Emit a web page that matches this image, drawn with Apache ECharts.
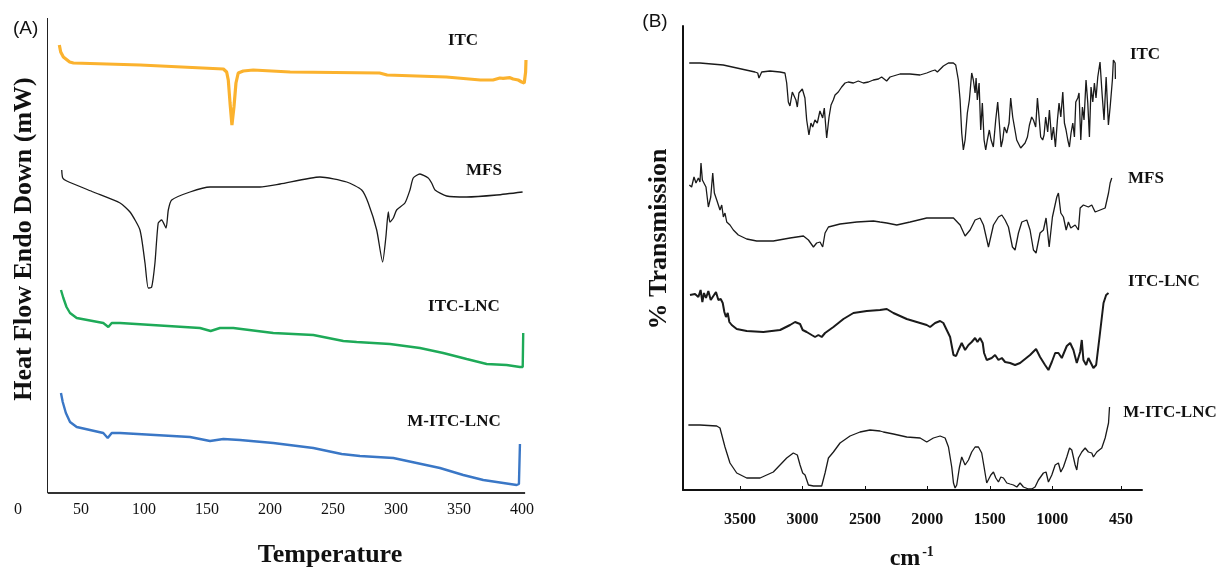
<!DOCTYPE html>
<html>
  <head>
    <meta charset="utf-8" />
    <title>DSC and FTIR</title>
    <script src="https://cdn.jsdelivr.net/npm/echarts@6.0.0/dist/echarts.min.js"></script>
    <style>
      html, body { margin: 0; padding: 0; background: #fff; }
    </style>
  </head>
  <body>
    <div id="main" style="width: 1218px; height: 573px"></div>

    <script>
      // (A) DSC: [temperature, heat flow (arbitrary, curves stacked)]
      var tempTicks = [0, 50, 100, 150, 200, 250, 300, 350, 400];
      var dscITC = [[32.8,448],[33.9,441],[36,436],[41,431],[44,430],[97,428],[163,424],[165.6,421],[166.9,413],[168.3,390],[169.8,368],[171.4,386],[173,410],[174.8,420],[178.8,422],[186.7,423],[216,421],[287,420],[293,418],[340,416],[367,413],[377,413],[382.5,415],[385,414.7],[390.5,415.3],[393,414],[397,413],[399.8,411],[401.8,410],[402.9,421],[403.2,433]];
      var dscMFS = [[34.7,323],[35.5,315],[38.7,312],[59.8,301],[81,290],[88.9,281],[96.8,263],[100.8,230],[103.4,205],[106.1,206],[108.7,230],[111.3,270],[114,273],[117.5,265],[119.3,283],[122,293],[136.5,301],[152.4,306],[192,306],[208,309],[239.7,316],[260.9,311],[272.8,303],[278,290],[284.7,263],[289.4,231],[292,256],[293.9,281],[295.2,271],[297.9,275],[300.5,283],[307.1,290],[311.1,303],[313.7,315],[319,319],[325.6,315],[328.3,310],[331,303],[340.2,297],[356.1,296],[380,298],[400.5,301]];
      var dscITCLNC = [[34.1,203],[36,195],[38.5,186],[41.3,180],[46.6,175],[67.7,170],[71.7,166],[74.4,170],[81,170],[144.4,165],[152.9,162],[160.3,165],[170.9,165],[202.6,160],[234.4,158],[258.2,152],[268.8,151],[295.2,149],[319,145],[337.5,140],[356.1,134],[372,129],[387.8,128],[398.4,126],[400.6,126],[401,160]];
      var dscMITCLNC = [[34.1,100],[35.5,91],[38,80],[41.3,71],[46.6,66],[67.7,60],[71.2,55],[74.4,60],[81,60],[136.5,56],[152.4,52],[163,54],[176.2,53],[202.6,50],[234.4,45],[256.9,39],[271.4,37],[297.9,35],[316.4,30],[334.9,25],[353.4,18],[369.3,13],[385.2,10],[395.8,8],[397.6,9],[398.4,49]];

      // (B) FTIR: [wavenumber cm-1, transmission (arbitrary, curves stacked)]
      var waveTicks = [3500, 3000, 2500, 2000, 1500, 1000, 450];
      var ftirITC = [[3906,427],[3820,427],[3634,425],[3380,418],[3358,417],[3348,412],[3326,418],[3260,419],[3180,418],[3140,417],[3126,407],[3113,388],[3100,384],[3081,398],[3065,400],[3052,390],[3041,383],[3028,397],[3001,401],[2980,392],[2966,370],[2948,355],[2932,367],[2918,363],[2900,370],[2881,367],[2860,379],[2838,372],[2825,382],[2806,352],[2787,373],[2771,385],[2753,390],[2739,395],[2713,398],[2686,403],[2659,407],[2633,408],[2592,407],[2553,409],[2512,407],[2472,408],[2432,410],[2392,411],[2366,413],[2326,409],[2299,413],[2219,416],[2139,416],[2059,415],[2005,417],[1965,419],[1939,420],[1920,418],[1904,419],[1872,424],[1832,427],[1792,427],[1773,425],[1752,410],[1738,390],[1725,357],[1712,340],[1698,350],[1680,377],[1664,390],[1645,417],[1632,410],[1618,397],[1610,412],[1600,390],[1586,407],[1573,360],[1560,387],[1546,350],[1533,340],[1520,350],[1504,360],[1490,350],[1472,343],[1453,370],[1437,388],[1424,367],[1410,343],[1397,350],[1384,363],[1365,357],[1346,367],[1333,392],[1317,373],[1303,363],[1285,350],[1271,352],[1253,342],[1237,344],[1218,347],[1199,353],[1183,365],[1165,373],[1151,370],[1133,363],[1119,392],[1106,373],[1093,353],[1077,350],[1066,355],[1053,373],[1037,358],[1023,380],[1005,350],[991,363],[975,343],[959,370],[946,387],[932,373],[916,398],[903,367],[890,360],[876,350],[863,343],[850,357],[836,367],[823,353],[812,388],[796,392],[786,397],[772,350],[759,383],[746,370],[730,410],[716,387],[703,353],[690,403],[676,388],[663,407],[650,392],[636,413],[618,428],[602,397],[586,370],[569,413],[551,365],[537,383],[519,410],[511,430],[497,427],[495,411]];
      var ftirMFS = [[3905,305],[3887,303],[3868,313],[3852,307],[3833,312],[3820,308],[3812,327],[3801,310],[3788,312],[3772,303],[3753,283],[3734,293],[3718,317],[3705,297],[3686,290],[3673,292],[3660,280],[3646,285],[3633,273],[3620,277],[3606,268],[3580,265],[3553,260],[3513,255],[3446,251],[3366,249],[3233,249],[3099,252],[2992,254],[2952,250],[2912,243],[2886,247],[2859,248],[2838,243],[2819,257],[2792,263],[2699,266],[2565,268],[2432,269],[2379,268],[2325,267],[2245,265],[2138,268],[2005,272],[1898,272],[1791,272],[1738,265],[1698,254],[1658,260],[1618,270],[1578,272],[1551,265],[1511,243],[1471,265],[1431,273],[1404,275],[1378,270],[1351,263],[1319,243],[1298,240],[1271,257],[1244,268],[1204,270],[1178,260],[1151,240],[1130,237],[1098,257],[1071,260],[1050,272],[1025,243],[999,273],[964,293],[951,297],[932,277],[911,273],[889,260],[871,268],[852,262],[817,265],[791,260],[777,282],[751,285],[711,283],[684,285],[657,278],[617,280],[577,282],[550,297],[537,307],[524,312]];
      var ftirITCLNC = [[3900,195],[3860,196],[3833,193],[3815,200],[3801,188],[3788,197],[3772,192],[3753,199],[3734,190],[3713,194],[3692,198],[3673,190],[3654,191],[3638,187],[3625,178],[3612,173],[3598,177],[3585,168],[3566,165],[3526,161],[3446,159],[3313,158],[3179,160],[3099,165],[3059,168],[3019,166],[2998,160],[2966,158],[2926,155],[2899,153],[2872,155],[2846,153],[2819,157],[2752,163],[2672,171],[2592,177],[2485,179],[2379,180],[2325,181],[2272,177],[2165,171],[2085,168],[2005,165],[1978,163],[1938,167],[1898,169],[1872,167],[1845,160],[1818,153],[1791,135],[1770,134],[1751,140],[1725,147],[1698,140],[1671,145],[1645,148],[1618,152],[1599,148],[1578,152],[1557,147],[1546,137],[1525,130],[1485,132],[1458,135],[1431,130],[1404,132],[1378,128],[1338,127],[1298,125],[1258,127],[1218,131],[1178,135],[1130,141],[1098,133],[1058,125],[1031,120],[1004,128],[977,137],[951,137],[924,132],[884,144],[857,147],[831,140],[804,127],[777,138],[764,150],[751,130],[729,125],[711,132],[671,122],[649,125],[622,153],[590,187],[569,195],[550,197]];
      var ftirMITCLNC = [[3913,65],[3820,65],[3686,64],[3660,62],[3620,43],[3580,27],[3526,17],[3446,12],[3339,12],[3233,18],[3126,32],[3073,37],[3041,35],[3019,25],[2998,17],[2979,15],[2952,5],[2912,4],[2846,4],[2819,17],[2792,32],[2752,38],[2699,47],[2619,54],[2539,58],[2459,60],[2379,59],[2352,58],[2272,56],[2165,53],[2058,52],[2005,48],[1952,52],[1898,54],[1858,52],[1831,43],[1805,23],[1791,7],[1778,2],[1765,5],[1743,23],[1725,33],[1698,25],[1671,30],[1645,38],[1618,43],[1591,43],[1565,37],[1546,23],[1525,7],[1511,5],[1492,15],[1471,18],[1452,12],[1431,8],[1412,13],[1391,12],[1364,7],[1338,6],[1311,5],[1284,3],[1258,7],[1231,3],[1191,1],[1164,1],[1138,3],[1111,10],[1071,17],[1050,18],[1031,8],[1004,15],[977,25],[951,27],[932,18],[911,23],[884,33],[862,42],[844,40],[817,25],[804,20],[791,32],[764,38],[737,42],[711,38],[684,37],[671,33],[644,38],[604,42],[577,52],[550,67],[542,83]];

      var axisStartA = 23.6; // where panel A's axes meet
      var axisEndA = 402.5;

      var serif = '"Liberation Serif", "Times New Roman", serif';

      function line(name, data, idx, color, width, smooth) {
        return {
          name: name,
          type: "line",
          xAxisIndex: idx,
          yAxisIndex: idx,
          data: data,
          symbol: "none",
          smooth: smooth || false,
          silent: true,
          lineStyle: { color: color, width: width },
          itemStyle: { color: color },
        };
      }

      function label(text, x, y, font, rotation) {
        return {
          type: "text",
          x: x,
          y: y,
          rotation: rotation || 0,
          silent: true,
          style: {
            text: text,
            fill: "#111",
            font: font,
            textAlign: "center",
            textVerticalAlign: "middle",
          },
        };
      }

      var myChart = echarts.init(document.getElementById("main"));

      var seriesA = [
        line("ITC", dscITC, 0, "#FBB22E", 3.2),
        line("MFS", dscMFS, 0, "#1a1a1a", 1.3, 0.2),
        line("ITC-LNC", dscITCLNC, 0, "#1EAA58", 2.4),
        line("M-ITC-LNC", dscMITCLNC, 0, "#3A77C6", 2.4),
      ];
      // panel A axis lines, drawn through the data scales
      seriesA[0].markLine = {
        silent: true,
        symbol: ["none", "none"],
        label: { show: false },
        lineStyle: { color: "#222", width: 1, type: "solid" },
        data: [
          [{ coord: [axisStartA, 0] }, { coord: [axisStartA, 475] }],
          [
            { coord: [axisStartA, 0], lineStyle: { color: "#333", width: 2, type: "solid" } },
            { coord: [axisEndA, 0] },
          ],
        ],
      };

      var option = {
        animation: false,
        backgroundColor: "#fff",
        grid: [
          { left: 18, top: 18, width: 509, height: 475 },
          { left: 683, top: 26, width: 459, height: 464 },
        ],
        xAxis: [
          {
            type: "value",
            gridIndex: 0,
            min: 0,
            max: 404,
            axisLine: { show: false },
            axisTick: { show: false },
            splitLine: { show: false },
            axisLabel: {
              customValues: tempTicks,
              formatter: function (v) { return String(v); },
              margin: 9,
              color: "#111",
              fontFamily: serif,
              fontSize: 16,
            },
          },
          {
            type: "value",
            gridIndex: 1,
            inverse: true,
            min: 282,
            max: 3956,
            axisLine: { show: true, onZero: false, lineStyle: { color: "#111", width: 2 } },
            axisTick: { show: true, inside: true, length: 4, customValues: waveTicks, lineStyle: { color: "#111" } },
            splitLine: { show: false },
            axisLabel: {
              customValues: waveTicks,
              formatter: function (v) { return String(v); },
              margin: 22,
              color: "#111",
              fontFamily: serif,
              fontWeight: "bold",
              fontSize: 16,
            },
          },
        ],
        yAxis: [
          { type: "value", gridIndex: 0, min: 0, max: 475, show: false },
          {
            type: "value",
            gridIndex: 1,
            min: 0,
            max: 464,
            axisLine: { show: true, onZero: false, lineStyle: { color: "#111", width: 2 } },
            axisTick: { show: false },
            axisLabel: { show: false },
            splitLine: { show: false },
          },
        ],
        series: seriesA.concat([
          line("ITC", ftirITC, 1, "#1a1a1a", 1.3),
          line("MFS", ftirMFS, 1, "#1a1a1a", 1.3),
          line("ITC-LNC", ftirITCLNC, 1, "#1a1a1a", 2),
          line("M-ITC-LNC", ftirMITCLNC, 1, "#1a1a1a", 1.3),
        ]),
        graphic: [
          label("(A)", 25.7, 28.8, '19px "Liberation Sans", Arial, sans-serif'),
          label("(B)", 655, 21.7, '19px "Liberation Sans", Arial, sans-serif'),
          label("Heat Flow Endo Down (mW)", 24, 239, "bold 26px " + serif, Math.PI / 2),
          label("Temperature", 330, 555, "bold 26px " + serif),
          label("% Transmission", 659, 239, "bold 26px " + serif, Math.PI / 2),
          label("cm", 905, 559, "bold 24px " + serif),
          label("-1", 928, 552, "bold 14px " + serif),
          label("ITC", 463, 41, "bold 17px " + serif),
          label("MFS", 484, 171, "bold 17px " + serif),
          label("ITC-LNC", 464, 307, "bold 17px " + serif),
          label("M-ITC-LNC", 454, 422, "bold 17px " + serif),
          label("ITC", 1145, 55, "bold 17px " + serif),
          label("MFS", 1146, 179, "bold 17px " + serif),
          label("ITC-LNC", 1164, 282, "bold 17px " + serif),
          label("M-ITC-LNC", 1170, 413, "bold 17px " + serif),
        ],
      };

      myChart.setOption(option);
    </script>
  </body>
</html>
